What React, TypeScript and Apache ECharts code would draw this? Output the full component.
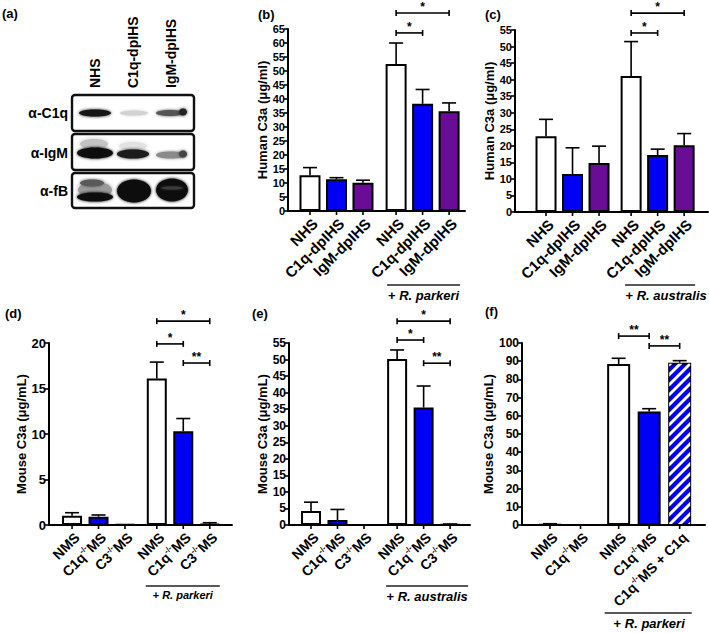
import React, { useEffect, useRef } from "react";
import * as echarts from "echarts";

const FONT = "'Liberation Sans', Arial, Helvetica, sans-serif";
const BLUE = "#0000f5";
const PURPLE = "#6a0d96";

// ---------- data ----------
const humanLabels = ["NHS", "C1q-dpIHS", "IgM-dpIHS", "NHS", "C1q-dpIHS", "IgM-dpIHS"];
const mouseLabels = ["NMS", "C1q-/-MS", "C3-/-MS", "NMS", "C1q-/-MS", "C3-/-MS"];
const fLabels = ["NMS", "C1q-/-MS", "NMS", "C1q-/-MS", "C1q-/-MS + C1q"];

// (b) Human C3a, + R. parkeri
const bMeans = [12.8, 11.3, 10.1, 52.5, 38.3, 35.6];
const bUpper = [15.5, 11.9, 11.0, 60.0, 43.4, 38.6];
const bSig: [number, number, string][] = [[3, 4, "*"], [3, 5, "*"]];

// (c) Human C3a, + R. australis
const cMeans = [22.9, 11.5, 14.8, 41.1, 17.2, 20.2];
const cUpper = [28.0, 19.4, 19.9, 51.5, 19.0, 23.7];
const cSig: [number, number, string][] = [[3, 4, "*"], [3, 5, "*"]];

// (d) Mouse C3a, + R. parkeri
const dMeans = [1.02, 0.92, 0.05, 16.1, 10.3, 0.1];
const dUpper = [1.35, 1.1, 0.05, 17.9, 11.7, 0.25];
const dSig: [number, number, string][] = [[3, 4, "*"], [4, 5, "**"], [3, 5, "*"]];

// (e) Mouse C3a, + R. australis
const eMeans = [4.2, 1.5, 0, 50.2, 35.5, 0.2];
const eUpper = [6.9, 4.7, 0, 52.9, 42.0, 0.3];
const eSig: [number, number, string][] = [[3, 4, "*"], [4, 5, "**"], [3, 5, "*"]];

// (f) Mouse C3a, C1q reconstitution, + R. parkeri
const fMeans = [0.3, 0, 88.5, 62.3, 89.2];
const fUpper = [0.7, 0, 91.6, 63.9, 90.3];
const fSig: [number, number, string][] = [[2, 3, "**"], [3, 4, "**"]];

// ---------- layout ----------
type Group = { from: number; to: number; species: string; lineDy: number; textDy: number; padL: number; padR: number; textDx: number; font: number };
type Panel = {
  left: number; top: number; width: number; height: number;
  xMin: number; xMax: number; slots: number[];
  labels: string[]; means: number[]; upper: number[]; fills: string[]; barWidth: number; labelFont: number;
  yMax: number; yStep: number; yName: string; nameGap: number; tickFont: number;
  sig: [number, number, string][]; sigLevels: number[]; group: Group;
};

const W = "#ffffff";
const panels: Panel[] = [
  {
    left: 288, top: 29, width: 177, height: 182, xMin: 0.17, xMax: 6.85, slots: [1, 2, 3, 4.25, 5.25, 6.25],
    labels: humanLabels, means: bMeans, upper: bUpper, fills: [W, BLUE, PURPLE, W, BLUE, PURPLE], barWidth: 21, labelFont: 15,
    yMax: 65, yStep: 5, yName: "Human C3a (μg/ml)", nameGap: 18, tickFont: 11,
    sig: bSig, sigLevels: [63.6, 70.7],
    group: { from: 3, to: 5, species: "R. parkeri", lineDy: 74, textDy: 84, padL: 9, padR: 11, textDx: 0, font: 13 },
  },
  {
    left: 515, top: 30, width: 193, height: 182, xMin: -0.17, xMax: 7.11, slots: [1, 2, 3, 4.21, 5.21, 6.21],
    labels: humanLabels, means: cMeans, upper: cUpper, fills: [W, BLUE, PURPLE, W, BLUE, PURPLE], barWidth: 21, labelFont: 15,
    yMax: 55, yStep: 5, yName: "Human C3a (μg/ml)", nameGap: 16, tickFont: 11,
    sig: cSig, sigLevels: [54.1, 60.1],
    group: { from: 3, to: 5, species: "R. australis", lineDy: 73, textDy: 83, padL: 6, padR: 11, textDx: 6, font: 13 },
  },
  {
    left: 49, top: 343, width: 183, height: 182, xMin: 0.13, xMax: 7.04, slots: [1, 2, 3, 4.2, 5.2, 6.2],
    labels: mouseLabels, means: dMeans, upper: dUpper, fills: [W, BLUE, W, W, BLUE, W], barWidth: 20, labelFont: 14,
    yMax: 20, yStep: 5, yName: "Mouse C3a (μg/mL)", nameGap: 20, tickFont: 13,
    sig: dSig, sigLevels: [19.9, 17.8, 22.4],
    group: { from: 3, to: 5, species: "R. parkeri", lineDy: 61, textDy: 70, padL: 11, padR: 10, textDx: 0, font: 11 },
  },
  {
    left: 289, top: 343, width: 181, height: 182, xMin: 0.17, xMax: 7.0, slots: [1, 2, 3, 4.25, 5.25, 6.25],
    labels: mouseLabels, means: eMeans, upper: eUpper, fills: [W, BLUE, W, W, BLUE, W], barWidth: 20, labelFont: 14,
    yMax: 55, yStep: 5, yName: "Mouse C3a (μg/mL)", nameGap: 20, tickFont: 12,
    sig: eSig, sigLevels: [55.9, 48.9, 61.6],
    group: { from: 3, to: 5, species: "R. australis", lineDy: 61, textDy: 71, padL: 11, padR: 18, textDx: 0, font: 13 },
  },
  {
    left: 522, top: 343, width: 183, height: 182, xMin: 0.082, xMax: 6.08, slots: [1, 2, 3.25, 4.25, 5.25],
    labels: fLabels, means: fMeans, upper: fUpper, fills: [W, BLUE, W, BLUE, "hatch"], barWidth: 23, labelFont: 14,
    yMax: 100, yStep: 10, yName: "Mouse C3a (μg/mL)", nameGap: 26, tickFont: 12,
    sig: fSig, sigLevels: [103.8, 98.4],
    group: { from: 2, to: 4, species: "R. parkeri", lineDy: 88, textDy: 98, padL: 14, padR: 12, textDx: 1, font: 13 },
  },
];

function richLabel(label: string, size: number) {
  const parts = label.split("-/-");
  let text = "";
  parts.forEach((p, i) => {
    if (p) text += `{n|${p}}`;
    if (i < parts.length - 1) text += `{s|-/-}`;
  });
  return {
    text,
    rich: {
      n: { fontFamily: FONT, fontWeight: "bold", fontSize: size, fill: "#000", lineHeight: size + 2 },
      s: { fontFamily: FONT, fontWeight: "bold", fontSize: Math.round(size * 0.6), fill: "#000", verticalAlign: "top", lineHeight: size + 2 },
    },
    align: "right",
    verticalAlign: "middle",
    fill: "#000",
  };
}

function clipHalf(poly: number[][], a: number, b: number, c: number) {
  const out: number[][] = [];
  for (let i = 0; i < poly.length; i++) {
    const p = poly[i];
    const q = poly[(i + 1) % poly.length];
    const fp = a * p[0] + b * p[1] - c;
    const fq = a * q[0] + b * q[1] - c;
    if (fp <= 0) out.push(p);
    if ((fp < 0 && fq > 0) || (fp > 0 && fq < 0)) {
      const t = fp / (fp - fq);
      out.push([p[0] + t * (q[0] - p[0]), p[1] + t * (q[1] - p[1])]);
    }
  }
  return out;
}

function makeRender(p: Panel) {
  return (_params: any, api: any) => {
    const children: any[] = [];
    const y0 = api.coord([p.slots[0], 0])[1];
    const black = { stroke: "#000", lineWidth: 1.6 };
    p.slots.forEach((s, i) => {
      const cx = api.coord([s, 0])[0];
      children.push({ type: "line", shape: { x1: cx, y1: y0, x2: cx, y2: y0 + 4 }, style: black });
      children.push({ type: "text", x: cx + 5, y: y0 + 10, rotation: Math.PI / 4, style: richLabel(p.labels[i], p.labelFont) });
      const yt = api.coord([s, p.means[i]])[1];
      if (p.fills[i] === "hatch") {
        const hw = p.barWidth / 2 - 1;
        const rect = [[cx - hw, yt + 1], [cx + hw, yt + 1], [cx + hw, y0 - 1], [cx - hw, y0 - 1]];
        const period = 10;
        const sw = 4.2;
        for (let c = cx - hw + yt - period; c < cx + hw + y0 + period; c += period) {
          let poly = clipHalf(rect, 1, 1, c + sw);
          poly = clipHalf(poly, -1, -1, -c);
          if (poly.length >= 3) children.push({ type: "polygon", shape: { points: poly }, style: { fill: "#ffffff" } });
        }
      }
      if (p.upper[i] > p.means[i] + 0.001) {
        const ye = api.coord([s, p.upper[i]])[1];
        children.push({ type: "line", shape: { x1: cx, y1: yt, x2: cx, y2: ye }, style: black });
        children.push({ type: "line", shape: { x1: cx - 7, y1: ye, x2: cx + 7, y2: ye }, style: black });
      }
    });
    p.sig.forEach(([a, b, lab], k) => {
      const [xa, yy] = api.coord([p.slots[a], p.sigLevels[k]]);
      const xb = api.coord([p.slots[b], 0])[0];
      children.push({ type: "line", shape: { x1: xa, y1: yy, x2: xb, y2: yy }, style: black });
      children.push({ type: "line", shape: { x1: xa, y1: yy - 3, x2: xa, y2: yy + 3 }, style: black });
      children.push({ type: "line", shape: { x1: xb, y1: yy - 3, x2: xb, y2: yy + 3 }, style: black });
      children.push({
        type: "text", x: (xa + xb) / 2, y: yy,
        style: { text: lab, fontFamily: FONT, fontWeight: "bold", fontSize: 12, fill: "#000", align: "center", verticalAlign: "bottom" },
      });
    });
    const g = p.group;
    const gx1 = api.coord([p.slots[g.from], 0])[0] - g.padL;
    const gx2 = api.coord([p.slots[g.to], 0])[0] + g.padR;
    children.push({ type: "line", shape: { x1: gx1, y1: y0 + g.lineDy, x2: gx2, y2: y0 + g.lineDy }, style: { stroke: "#222", lineWidth: 1.5 } });
    children.push({
      type: "text", x: (gx1 + gx2) / 2 + g.textDx, y: y0 + g.textDy,
      style: {
        text: `{n|+ }{i|${g.species}}`,
        rich: {
          n: { fontFamily: FONT, fontWeight: "bold", fontSize: g.font, fill: "#000" },
          i: { fontFamily: FONT, fontWeight: "bold", fontStyle: "italic", fontSize: g.font, fill: "#000" },
        },
        align: "center", verticalAlign: "middle",
      },
    });
    return { type: "group", children };
  };
}

function blotGraphics(): any[] {
  const els: any[] = [];
  const band = (cx: number, cy: number, rx: number, ry: number, fill: string, blur = 3) =>
    els.push({ type: "ellipse", shape: { cx, cy, rx, ry }, style: { fill, shadowBlur: blur, shadowColor: fill } });
  // row 1: alpha-C1q
  band(95, 113, 16, 3.5, "#151515");
  band(134, 113, 14, 2.6, "#d2d2d2");
  band(170, 113, 14, 3, "#555555");
  band(183, 112, 4, 3.5, "#222222");
  // row 2: alpha-IgM
  band(94, 144, 14, 5, "#c4c4c4", 4);
  band(133, 146, 14, 4, "#e2e2e2", 4);
  band(95, 153, 18, 5.5, "#0a0a0a");
  band(133, 154, 16, 4.5, "#1a1a1a");
  band(171, 155, 15, 3.5, "#8a8a8a");
  band(183, 154, 4, 3.5, "#444444");
  // row 3: alpha-fB
  band(95, 190, 17, 8, "#9a9a9a", 4);
  band(92, 183, 12, 3.5, "#5a5a5a");
  band(95, 197, 18, 4.5, "#111111");
  band(134, 191, 17, 11.5, "#0a0a0a");
  band(172, 190, 16, 11.5, "#111111");
  band(172, 188, 11, 1.5, "#3a3a3a", 2);
  // frames
  [[95, 36], [134, 36], [173, 35]].forEach(([y, h]) =>
    els.push({ type: "rect", shape: { x: 72, y, width: 122, height: h, r: 3 }, style: { fill: "none", stroke: "#111", lineWidth: 2.4 } })
  );
  const tStyle = { fontFamily: FONT, fontWeight: "bold", fontSize: 14, fill: "#000" };
  [["NHS", 95], ["C1q-dpIHS", 133], ["IgM-dpIHS", 171]].forEach(([t, x]) =>
    els.push({ type: "text", x: x as number, y: 88, rotation: Math.PI / 2, style: { ...tStyle, text: t, align: "left", verticalAlign: "middle" } })
  );
  [["α-C1q", 113], ["α-IgM", 153], ["α-fB", 191]].forEach(([t, y]) =>
    els.push({ type: "text", x: 68, y: y as number, style: { ...tStyle, text: t, align: "right", verticalAlign: "middle" } })
  );
  return els;
}

function panelLetters(): any[] {
  const pos: [string, number, number][] = [
    ["(a)", 2, 13], ["(b)", 258, 14], ["(c)", 485, 14], ["(d)", 5, 313], ["(e)", 252, 313], ["(f)", 485, 311],
  ];
  return pos.map(([t, x, y]) => ({
    type: "text", x, y,
    style: { text: t, fontFamily: FONT, fontWeight: "bold", fontSize: 13, fill: "#000", align: "left", verticalAlign: "middle" },
  }));
}

export default function App() {
  const ref = useRef<HTMLDivElement>(null);
  useEffect(() => {
    if (!ref.current) return;
    const chart = echarts.init(ref.current, undefined, { renderer: "svg" });
    const grid = panels.map((p) => ({ left: p.left, top: p.top, width: p.width, height: p.height, containLabel: false }));
    const xAxis = panels.map((p, i) => ({
      type: "value", gridIndex: i, min: p.xMin, max: p.xMax,
      axisLine: { show: true, onZero: false, lineStyle: { color: "#000", width: 2 } },
      axisTick: { show: false }, axisLabel: { show: false }, splitLine: { show: false },
    }));
    const yAxis = panels.map((p, i) => ({
      type: "value", gridIndex: i, min: 0, max: p.yMax, interval: p.yStep,
      name: p.yName, nameLocation: "middle", nameGap: p.nameGap,
      nameTextStyle: { fontFamily: FONT, fontWeight: "bold", fontSize: 13, color: "#000" },
      axisLine: { show: true, onZero: false, lineStyle: { color: "#000", width: 2 } },
      axisTick: { show: true, length: 4, lineStyle: { color: "#000", width: 1.6 } },
      axisLabel: { fontFamily: FONT, fontWeight: "bold", fontSize: p.tickFont, color: "#000", margin: 3 },
      splitLine: { show: false },
    }));
    const series: any[] = [];
    panels.forEach((p, i) => {
      series.push({
        type: "bar", xAxisIndex: i, yAxisIndex: i, barWidth: p.barWidth, silent: true,
        data: p.means.map((v, j) => ({
          value: [p.slots[j], v],
          itemStyle: { color: p.fills[j] === "hatch" ? BLUE : p.fills[j], borderColor: "#000", borderWidth: 2 },
        })),
        z: 2,
      });
      series.push({
        type: "custom", xAxisIndex: i, yAxisIndex: i, silent: true, clip: false,
        data: [[p.slots[0], 0]], renderItem: makeRender(p), z: 3,
      });
    });
    chart.setOption({
      animation: false,
      backgroundColor: "#ffffff",
      grid, xAxis, yAxis, series,
      graphic: [...blotGraphics(), ...panelLetters()],
    });
    return () => chart.dispose();
  }, []);
  return <div ref={ref} style={{ position: "fixed", left: 0, top: 0, width: 709, height: 633, background: "#fff" }} />;
}
